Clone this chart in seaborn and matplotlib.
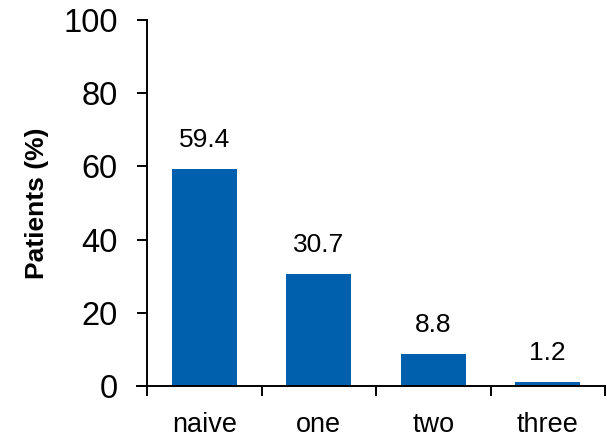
import matplotlib
matplotlib.use("Agg")
import matplotlib.pyplot as plt
import seaborn as sns
import pandas as pd

categories = ["naive", "one", "two", "three"]
patients_pct = [59.4, 30.7, 8.8, 1.2]
y_ticks = [0, 20, 40, 60, 80, 100]

sns.set_style("ticks")
plt.rcParams["font.family"] = ["Liberation Sans", "DejaVu Sans"]
plt.rcParams["text.color"] = "black"
plt.rcParams["axes.labelcolor"] = "black"
plt.rcParams["xtick.color"] = "black"
plt.rcParams["ytick.color"] = "black"

df = pd.DataFrame({"group": categories, "pct": patients_pct})

fig = plt.figure(figsize=(6.07, 4.41), dpi=100)
ax = fig.add_axes([0.2422, 0.1247, 0.7545, 0.83])

sns.barplot(data=df, x="group", y="pct", color="#0060AE", saturation=1,
            width=0.57, edgecolor="none", ax=ax)

ax.set_ylim(0, 100)
ax.set_xlim(-0.5, 3.5)
ax.set_yticks(y_ticks)
ax.tick_params(axis="y", length=7.2, width=1.4, direction="out", pad=14,
               labelsize=23.5, colors="black")

# boundary ticks between categories, labels centred under each bar
ax.set_xticks([i - 0.5 for i in range(len(categories) + 1)])
ax.set_xticklabels([])
ax.tick_params(axis="x", which="major", length=7.2, width=1.4, direction="out",
               colors="black")
ax.set_xticks(range(len(categories)), minor=True)
ax.set_xticklabels(categories, minor=True, fontsize=19.5, color="black")
ax.tick_params(axis="x", which="minor", length=0, pad=19)

ax.set_xlabel("")
ax.set_ylabel("Patients (%)", fontweight="bold", fontsize=19, labelpad=10,
              color="black")

for side in ["top", "right"]:
    ax.spines[side].set_visible(False)
for side in ["left", "bottom"]:
    ax.spines[side].set_linewidth(1.4)
    ax.spines[side].set_color("black")
ax.spines["bottom"].set_bounds(-0.5 - 10 / 115, 3.5)

for cont in ax.containers:
    ax.bar_label(cont, labels=[f"{v:.1f}" for v in patients_pct], padding=12,
                 fontsize=19, color="black")

fig.savefig("out.png", dpi=100)
